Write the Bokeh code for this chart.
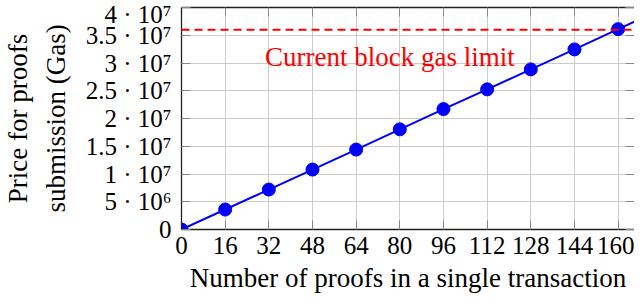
from bokeh.plotting import figure
from bokeh.models import Range1d, FixedTicker, LinearAxis, Span, Label
from bokeh.embed import file_html
from bokeh.resources import INLINE

# data
proofs = [0, 16, 32, 48, 64, 80, 96, 112, 128, 144, 160, 176]
gas = [0, 3.6e6, 7.2e6, 10.8e6, 14.4e6, 18.05e6, 21.7e6, 25.25e6, 28.85e6, 32.45e6, 36.1e6, 39.7e6]
marker_proofs = proofs[:11]
marker_gas = gas[:11]
block_gas_limit = 36e6
limit_text = "Current block gas limit"
x_ticks = [0, 16, 32, 48, 64, 80, 96, 112, 128, 144, 160]
y_ticks = [0, 5000000, 10000000, 15000000, 20000000, 25000000, 30000000, 35000000, 40000000]
y_tick_labels = ["0", "5 · 10⁶", "1 · 10⁷", "1.5 · 10⁷", "2 · 10⁷", "2.5 · 10⁷",
                 "3 · 10⁷", "3.5 · 10⁷", "4 · 10⁷"]
x_label = "Number of proofs in a single transaction"
y_label = "Price for proofs\nsubmission (Gas)"

FONT = "Liberation Serif"

p = figure(width=634, height=296, output_backend="svg", toolbar_location=None,
           x_range=Range1d(0, 166), y_range=Range1d(0, 4e7),
           min_border_left=174, min_border_right=0, min_border_top=7, min_border_bottom=67)
p.outline_line_color = None
p.background_fill_color = "white"
p.border_fill_color = "white"

# grid
for g in (p.xgrid, p.ygrid):
    g.grid_line_color = "#cbcbcb"
    g.grid_line_width = 1
p.xgrid.ticker = FixedTicker(ticks=x_ticks)
p.ygrid.ticker = FixedTicker(ticks=y_ticks)

# main axes
xa = p.xaxis[0]
ya = p.yaxis[0]
xa.ticker = FixedTicker(ticks=x_ticks)
ya.ticker = FixedTicker(ticks=y_ticks)
ya.major_label_overrides = {t: lab for t, lab in zip(y_ticks, y_tick_labels)}
for ax in (xa, ya):
    ax.axis_line_color = "#222222"
    ax.axis_line_width = 1.3
    ax.major_tick_in = 9
    ax.major_tick_out = 0
    ax.major_tick_line_color = "#888888"
    ax.minor_tick_line_color = None
    ax.major_label_text_font = FONT
    ax.major_label_text_font_size = "25px"
    ax.major_label_text_color = "black"
    ax.axis_label_text_font = FONT
    ax.axis_label_text_font_size = "27px"
    ax.axis_label_text_font_style = "normal"
    ax.axis_label_text_color = "black"
xa.axis_label = x_label
ya.axis_label = y_label
xa.major_label_standoff = 7
ya.major_label_standoff = 10
xa.axis_label_standoff = 6
ya.axis_label_standoff = 12
ya.axis_label_text_line_height = 1.25
ya.axis_label_text_align = "center"

# top and right axes (ticks only)
top = LinearAxis(ticker=FixedTicker(ticks=x_ticks), major_tick_in=9, major_tick_out=0,
                 major_tick_line_color="#888888", minor_tick_line_color=None,
                 axis_line_color="#222222", axis_line_width=1.3,
                 major_label_overrides={t: "" for t in x_ticks}, major_label_standoff=0)
p.add_layout(top, "above")
right = LinearAxis(ticker=FixedTicker(ticks=y_ticks), major_tick_in=9, major_tick_out=0,
                   major_tick_line_color="#888888", minor_tick_line_color=None,
                   axis_line_color=None,
                   major_label_overrides={t: "" for t in y_ticks}, major_label_standoff=0)
p.add_layout(right, "right")

# gas limit
p.add_layout(Span(location=block_gas_limit, dimension="width", line_color="#ff0000",
                  line_width=2, line_dash="8 5"))
p.add_layout(Label(x=30.6, y=31.0e6, text=limit_text, text_font=FONT,
                   text_font_size="27px", text_color="#ff0000",
                   text_baseline="alphabetic", text_align="left"))

# series
p.line(proofs, gas, line_color="#0000ff", line_width=2)
p.scatter(marker_proofs, marker_gas, size=13, fill_color="#0000ff", line_color="#0000ff")

open("out.html", "w").write(file_html(p, INLINE))
